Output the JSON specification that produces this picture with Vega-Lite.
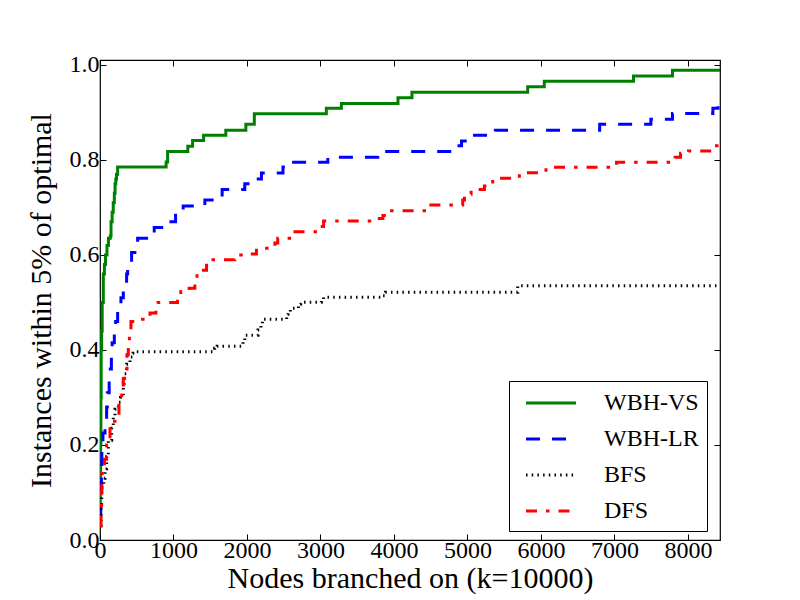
{
  "$schema": "https://vega.github.io/schema/vega-lite/v6.json",
  "width": 620,
  "height": 480,
  "autosize": {"type": "none"},
  "padding": {"left": 100, "top": 60, "right": 80, "bottom": 60},
  "background": "white",
  "config": {
    "font": "Liberation Serif",
    "view": {"stroke": "black", "strokeWidth": 1.2},
    "axis": {
      "domain": false,
      "grid": false,
      "tickColor": "black",
      "tickSize": -6,
      "tickWidth": 1,
      "labelFont": "Liberation Serif",
      "labelFontSize": 24,
      "labelColor": "black",
      "labelFlush": false,
      "labelOverlap": false,
      "titleFont": "Liberation Serif",
      "titleFontSize": 30,
      "titleFontWeight": "normal",
      "titleColor": "black"
    }
  },
  "data": {
    "values": [
      {"method": "WBH-VS", "x": 0, "y": 0.03},
      {"method": "WBH-VS", "x": 4, "y": 0.1},
      {"method": "WBH-VS", "x": 8, "y": 0.2},
      {"method": "WBH-VS", "x": 12, "y": 0.3},
      {"method": "WBH-VS", "x": 16, "y": 0.4},
      {"method": "WBH-VS", "x": 22, "y": 0.44},
      {"method": "WBH-VS", "x": 30, "y": 0.5},
      {"method": "WBH-VS", "x": 45, "y": 0.56},
      {"method": "WBH-VS", "x": 60, "y": 0.58},
      {"method": "WBH-VS", "x": 75, "y": 0.6},
      {"method": "WBH-VS", "x": 95, "y": 0.62},
      {"method": "WBH-VS", "x": 115, "y": 0.635},
      {"method": "WBH-VS", "x": 140, "y": 0.64},
      {"method": "WBH-VS", "x": 150, "y": 0.67},
      {"method": "WBH-VS", "x": 165, "y": 0.69},
      {"method": "WBH-VS", "x": 180, "y": 0.71},
      {"method": "WBH-VS", "x": 195, "y": 0.73},
      {"method": "WBH-VS", "x": 205, "y": 0.75},
      {"method": "WBH-VS", "x": 215, "y": 0.76},
      {"method": "WBH-VS", "x": 225, "y": 0.77},
      {"method": "WBH-VS", "x": 240, "y": 0.785},
      {"method": "WBH-VS", "x": 900, "y": 0.796},
      {"method": "WBH-VS", "x": 920, "y": 0.818},
      {"method": "WBH-VS", "x": 1195, "y": 0.829},
      {"method": "WBH-VS", "x": 1260, "y": 0.841},
      {"method": "WBH-VS", "x": 1410, "y": 0.852},
      {"method": "WBH-VS", "x": 1712, "y": 0.8625},
      {"method": "WBH-VS", "x": 1985, "y": 0.875},
      {"method": "WBH-VS", "x": 2100, "y": 0.8975},
      {"method": "WBH-VS", "x": 3080, "y": 0.909},
      {"method": "WBH-VS", "x": 3285, "y": 0.919},
      {"method": "WBH-VS", "x": 4055, "y": 0.931},
      {"method": "WBH-VS", "x": 4245, "y": 0.9425},
      {"method": "WBH-VS", "x": 5820, "y": 0.954},
      {"method": "WBH-VS", "x": 6046, "y": 0.966},
      {"method": "WBH-VS", "x": 7260, "y": 0.977},
      {"method": "WBH-VS", "x": 7790, "y": 0.989},
      {"method": "WBH-VS", "x": 8437, "y": 0.989},

      {"method": "WBH-LR", "x": 0, "y": 0.05},
      {"method": "WBH-LR", "x": 10, "y": 0.11},
      {"method": "WBH-LR", "x": 20, "y": 0.15},
      {"method": "WBH-LR", "x": 25, "y": 0.2},
      {"method": "WBH-LR", "x": 40, "y": 0.225},
      {"method": "WBH-LR", "x": 68, "y": 0.25},
      {"method": "WBH-LR", "x": 90, "y": 0.28},
      {"method": "WBH-LR", "x": 100, "y": 0.31},
      {"method": "WBH-LR", "x": 125, "y": 0.34},
      {"method": "WBH-LR", "x": 140, "y": 0.36},
      {"method": "WBH-LR", "x": 155, "y": 0.385},
      {"method": "WBH-LR", "x": 165, "y": 0.415},
      {"method": "WBH-LR", "x": 195, "y": 0.44},
      {"method": "WBH-LR", "x": 213, "y": 0.46},
      {"method": "WBH-LR", "x": 240, "y": 0.49},
      {"method": "WBH-LR", "x": 285, "y": 0.51},
      {"method": "WBH-LR", "x": 317, "y": 0.54},
      {"method": "WBH-LR", "x": 362, "y": 0.56},
      {"method": "WBH-LR", "x": 376, "y": 0.585},
      {"method": "WBH-LR", "x": 430, "y": 0.605},
      {"method": "WBH-LR", "x": 512, "y": 0.635},
      {"method": "WBH-LR", "x": 738, "y": 0.658},
      {"method": "WBH-LR", "x": 965, "y": 0.67},
      {"method": "WBH-LR", "x": 1028, "y": 0.69},
      {"method": "WBH-LR", "x": 1132, "y": 0.703},
      {"method": "WBH-LR", "x": 1427, "y": 0.716},
      {"method": "WBH-LR", "x": 1662, "y": 0.738},
      {"method": "WBH-LR", "x": 1970, "y": 0.75},
      {"method": "WBH-LR", "x": 2048, "y": 0.76},
      {"method": "WBH-LR", "x": 2197, "y": 0.7726},
      {"method": "WBH-LR", "x": 2490, "y": 0.785},
      {"method": "WBH-LR", "x": 2580, "y": 0.795},
      {"method": "WBH-LR", "x": 3100, "y": 0.806},
      {"method": "WBH-LR", "x": 3780, "y": 0.818},
      {"method": "WBH-LR", "x": 4850, "y": 0.83},
      {"method": "WBH-LR", "x": 4920, "y": 0.84},
      {"method": "WBH-LR", "x": 5070, "y": 0.852},
      {"method": "WBH-LR", "x": 5380, "y": 0.8625},
      {"method": "WBH-LR", "x": 6800, "y": 0.875},
      {"method": "WBH-LR", "x": 7496, "y": 0.886},
      {"method": "WBH-LR", "x": 7790, "y": 0.898},
      {"method": "WBH-LR", "x": 8340, "y": 0.909},
      {"method": "WBH-LR", "x": 8410, "y": 0.92},
      {"method": "WBH-LR", "x": 8437, "y": 0.92},

      {"method": "BFS", "x": 0, "y": 0.03},
      {"method": "BFS", "x": 15, "y": 0.07},
      {"method": "BFS", "x": 23, "y": 0.11},
      {"method": "BFS", "x": 50, "y": 0.13},
      {"method": "BFS", "x": 68, "y": 0.15},
      {"method": "BFS", "x": 90, "y": 0.175},
      {"method": "BFS", "x": 113, "y": 0.21},
      {"method": "BFS", "x": 159, "y": 0.235},
      {"method": "BFS", "x": 180, "y": 0.26},
      {"method": "BFS", "x": 204, "y": 0.275},
      {"method": "BFS", "x": 250, "y": 0.29},
      {"method": "BFS", "x": 280, "y": 0.3},
      {"method": "BFS", "x": 317, "y": 0.33},
      {"method": "BFS", "x": 330, "y": 0.35},
      {"method": "BFS", "x": 362, "y": 0.37},
      {"method": "BFS", "x": 408, "y": 0.385},
      {"method": "BFS", "x": 450, "y": 0.393},
      {"method": "BFS", "x": 476, "y": 0.3965},
      {"method": "BFS", "x": 1560, "y": 0.4035},
      {"method": "BFS", "x": 1594, "y": 0.408},
      {"method": "BFS", "x": 1946, "y": 0.42},
      {"method": "BFS", "x": 1970, "y": 0.431},
      {"method": "BFS", "x": 2150, "y": 0.442},
      {"method": "BFS", "x": 2190, "y": 0.4547},
      {"method": "BFS", "x": 2210, "y": 0.4646},
      {"method": "BFS", "x": 2540, "y": 0.475},
      {"method": "BFS", "x": 2558, "y": 0.48},
      {"method": "BFS", "x": 2591, "y": 0.4877},
      {"method": "BFS", "x": 2700, "y": 0.4968},
      {"method": "BFS", "x": 2731, "y": 0.5004},
      {"method": "BFS", "x": 3012, "y": 0.504},
      {"method": "BFS", "x": 3043, "y": 0.511},
      {"method": "BFS", "x": 3830, "y": 0.514},
      {"method": "BFS", "x": 3886, "y": 0.5214},
      {"method": "BFS", "x": 5684, "y": 0.5354},
      {"method": "BFS", "x": 8437, "y": 0.5354},

      {"method": "DFS", "x": 0, "y": 0.03},
      {"method": "DFS", "x": 14, "y": 0.06},
      {"method": "DFS", "x": 20, "y": 0.1},
      {"method": "DFS", "x": 25, "y": 0.14},
      {"method": "DFS", "x": 60, "y": 0.17},
      {"method": "DFS", "x": 90, "y": 0.2},
      {"method": "DFS", "x": 136, "y": 0.25},
      {"method": "DFS", "x": 204, "y": 0.26},
      {"method": "DFS", "x": 258, "y": 0.29},
      {"method": "DFS", "x": 294, "y": 0.32},
      {"method": "DFS", "x": 317, "y": 0.34},
      {"method": "DFS", "x": 335, "y": 0.36},
      {"method": "DFS", "x": 367, "y": 0.39},
      {"method": "DFS", "x": 385, "y": 0.42},
      {"method": "DFS", "x": 400, "y": 0.44},
      {"method": "DFS", "x": 421, "y": 0.46},
      {"method": "DFS", "x": 475, "y": 0.4646},
      {"method": "DFS", "x": 680, "y": 0.478},
      {"method": "DFS", "x": 761, "y": 0.49},
      {"method": "DFS", "x": 790, "y": 0.5},
      {"method": "DFS", "x": 1055, "y": 0.512},
      {"method": "DFS", "x": 1100, "y": 0.523},
      {"method": "DFS", "x": 1213, "y": 0.53},
      {"method": "DFS", "x": 1291, "y": 0.547},
      {"method": "DFS", "x": 1320, "y": 0.56},
      {"method": "DFS", "x": 1372, "y": 0.568},
      {"method": "DFS", "x": 1450, "y": 0.59},
      {"method": "DFS", "x": 1834, "y": 0.6},
      {"method": "DFS", "x": 2024, "y": 0.602},
      {"method": "DFS", "x": 2129, "y": 0.614},
      {"method": "DFS", "x": 2380, "y": 0.625},
      {"method": "DFS", "x": 2419, "y": 0.635},
      {"method": "DFS", "x": 2627, "y": 0.649},
      {"method": "DFS", "x": 2966, "y": 0.66},
      {"method": "DFS", "x": 3043, "y": 0.6716},
      {"method": "DFS", "x": 3800, "y": 0.677},
      {"method": "DFS", "x": 3850, "y": 0.683},
      {"method": "DFS", "x": 3900, "y": 0.693},
      {"method": "DFS", "x": 4416, "y": 0.705},
      {"method": "DFS", "x": 4936, "y": 0.716},
      {"method": "DFS", "x": 4960, "y": 0.728},
      {"method": "DFS", "x": 5050, "y": 0.738},
      {"method": "DFS", "x": 5231, "y": 0.745},
      {"method": "DFS", "x": 5300, "y": 0.75},
      {"method": "DFS", "x": 5344, "y": 0.7614},
      {"method": "DFS", "x": 5707, "y": 0.7733},
      {"method": "DFS", "x": 6069, "y": 0.7846},
      {"method": "DFS", "x": 7029, "y": 0.795},
      {"method": "DFS", "x": 7826, "y": 0.806},
      {"method": "DFS", "x": 7900, "y": 0.814},
      {"method": "DFS", "x": 8007, "y": 0.819},
      {"method": "DFS", "x": 8350, "y": 0.83},
      {"method": "DFS", "x": 8437, "y": 0.83}
    ]
  },
  "layer": [
    {
      "mark": {"type": "line", "interpolate": "step-after", "strokeCap": "butt", "clip": true},
      "encoding": {
        "x": {
          "field": "x",
          "type": "quantitative",
          "scale": {"domain": [0, 8437], "nice": false, "zero": false},
          "axis": {"values": [0, 1000, 2000, 3000, 4000, 5000, 6000, 7000, 8000], "format": "d", "labelPadding": 4, "title": "Nodes branched on (k=10000)", "titlePadding": 1}
        },
        "y": {
          "field": "y",
          "type": "quantitative",
          "scale": {"domain": [0, 1.0105], "nice": false},
          "axis": {"values": [0, 0.2, 0.4, 0.6, 0.8, 1.0], "format": ".1f", "labelPadding": 7, "title": "Instances within 5% of optimal", "titlePadding": 13}
        },
        "color": {
          "field": "method",
          "type": "nominal",
          "sort": ["WBH-VS", "WBH-LR", "BFS", "DFS"],
          "scale": {"domain": ["WBH-VS", "WBH-LR", "BFS", "DFS"], "range": ["#008000", "#0000ff", "#000000", "#ff0000"]},
          "legend": {
            "title": null,
            "orient": "none",
            "legendX": 409,
            "legendY": 321,
            "padding": 8,
            "strokeColor": "black",
            "fillColor": "white",
            "cornerRadius": 0,
            "symbolType": "M-0.4,0H3.6",
            "symbolSize": 625,
            "labelFont": "Liberation Serif",
            "labelFontSize": 24,
            "labelColor": "black",
            "labelOffset": 59,
            "rowPadding": 10,
            "labelLimit": 200
          }
        },
        "strokeDash": {
          "field": "method",
          "type": "nominal",
          "sort": ["WBH-VS", "WBH-LR", "BFS", "DFS"],
          "scale": {"domain": ["WBH-VS", "WBH-LR", "BFS", "DFS"], "range": [[1, 0], [14, 12], [1.5, 4.2], [11, 9, 3.5, 9]]},
          "legend": null
        },
        "strokeWidth": {
          "field": "method",
          "type": "nominal",
          "scale": {"domain": ["WBH-VS", "WBH-LR", "BFS", "DFS"], "range": [3, 3, 1.5, 3]},
          "legend": null
        }
      }
    },
    {
      "mark": {"type": "point", "opacity": 0},
      "encoding": {
        "x": {"field": "x", "type": "quantitative", "axis": {"orient": "top", "values": [0, 1000, 2000, 3000, 4000, 5000, 6000, 7000, 8000], "labels": false, "title": null}},
        "y": {"field": "y", "type": "quantitative", "axis": {"orient": "right", "values": [0, 0.2, 0.4, 0.6, 0.8, 1.0], "labels": false, "title": null}}
      }
    }
  ],
  "resolve": {"axis": {"x": "independent", "y": "independent"}}
}
